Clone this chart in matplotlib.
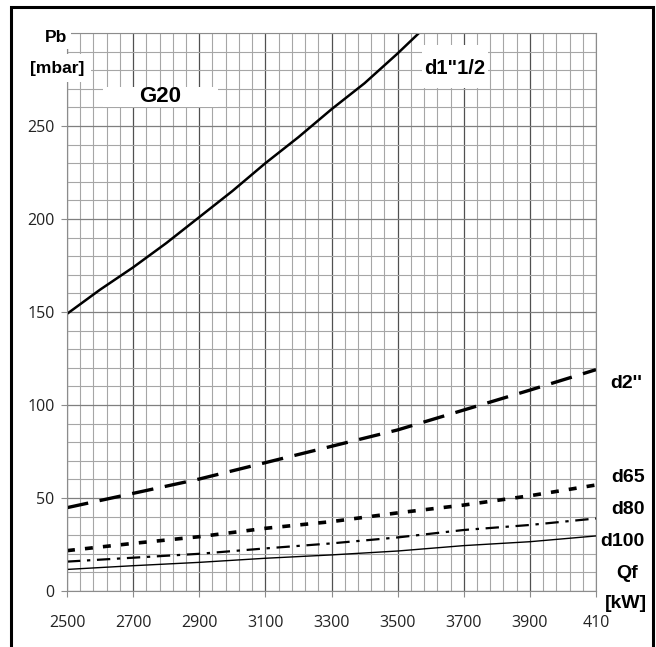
import matplotlib
matplotlib.use("Agg")
import matplotlib.pyplot as plt
from matplotlib.patches import Rectangle
from matplotlib.ticker import MultipleLocator, FixedLocator

# data (Qf in kW, Pb in mbar)
qf_big = [2500, 2600, 2700, 2800, 2900, 3000, 3100, 3200, 3300, 3400, 3500, 3600]
pb_d1_half = [149, 162, 174, 187, 201, 215, 230, 244, 259, 273, 289, 306]

qf = [2500, 2700, 2900, 3100, 3300, 3500, 3700, 3900, 4100]
pb_d2 = [44.8, 52.5, 60.2, 69, 77.8, 86.6, 97.3, 108, 119]
pb_d65 = [21.7, 25.6, 29.2, 33.7, 37.3, 42, 46.2, 51.2, 57]
pb_d80 = [15.8, 17.9, 20, 22.9, 25.6, 28.8, 32.8, 35.5, 39]
pb_d100 = [11.6, 13.6, 15.4, 17.6, 19.4, 21.5, 24.4, 26.5, 29.6]

x_ticks = [2500, 2700, 2900, 3100, 3300, 3500, 3700, 3900, 4100]
x_labels = ['2500', '2700', '2900', '3100', '3300', '3500', '3700', '3900', '410']
y_ticks = [0, 50, 100, 150, 200, 250]

W, H = 656, 647
fig = plt.figure(figsize=(W / 100, H / 100), dpi=100)

def fx(px):
    return px / W

def fy(py):
    return 1 - py / H

ax = fig.add_axes([fx(67), fy(591), (596 - 67) / W, (591 - 33) / H])
ax.set_xlim(2500, 4100)
ax.set_ylim(0, 300)

ax.xaxis.set_major_locator(FixedLocator(x_ticks))
ax.xaxis.set_minor_locator(MultipleLocator(40, offset=20))
ax.yaxis.set_major_locator(FixedLocator(y_ticks))
ax.yaxis.set_minor_locator(MultipleLocator(10))
ax.set_xticklabels(x_labels)

ax.grid(which='minor', color='#a6a6a6', lw=0.8)
ax.grid(which='major', axis='y', color='#7f7f7f', lw=0.9)
ax.grid(which='major', axis='x', color='#505050', lw=0.9)
ax.set_axisbelow(True)
for s in ax.spines.values():
    s.set_color('#8c8c8c')
    s.set_linewidth(0.8)

ax.tick_params(which='minor', length=0)
ax.tick_params(which='major', color='#8c8c8c', length=4, width=0.8,
               labelsize=11.5, labelcolor='#222222')
ax.tick_params(axis='x', pad=13)
ax.tick_params(axis='y', pad=5)
for lab in ax.get_xticklabels() + ax.get_yticklabels():
    lab.set_fontfamily('Open Sans')

ax.plot(qf_big, pb_d1_half, color='black', lw=1.8, solid_capstyle='butt')
ax.plot(qf, pb_d2, color='black', lw=2.4, dashes=(6.5, 3.5))
ax.plot(qf, pb_d65, color='black', lw=2.6, dashes=(2.2, 2.8))
ax.plot(qf, pb_d80, color='black', lw=1.6, dashes=(6, 3, 1.5, 3))
ax.plot(qf, pb_d100, color='black', lw=1.0)

# white label boxes over the grid
for (x0, y0, x1, y1) in [(103, 87, 218, 107), (422, 45, 488, 88)]:
    fig.patches.append(Rectangle((fx(x0), fy(y1)), fx(x1) - fx(x0), fy(y0) - fy(y1),
                                 transform=fig.transFigure, facecolor='white',
                                 edgecolor='none', zorder=2))

bold = dict(fontfamily='Liberation Sans', fontweight='bold', color='black',
            ha='center', va='center', zorder=4)

fig.text(fx(56), fy(37), 'Pb', fontsize=12.5,
         bbox=dict(facecolor='white', edgecolor='none', pad=3), **bold)
fig.text(fx(57), fy(68), '[mbar]', fontsize=12.5,
         bbox=dict(facecolor='white', edgecolor='none', pad=5), **bold)
fig.text(fx(160), fy(96), 'G20', fontsize=16, **bold)
fig.text(fx(455), fy(68), 'd1"1/2', fontsize=14.5, **bold)
fig.text(fx(626), fy(383), "d2''", fontsize=14, **bold)
fig.text(fx(628), fy(478), 'd65', fontsize=14, **bold)
fig.text(fx(628), fy(510), 'd80', fontsize=14, **bold)
fig.text(fx(622), fy(542), 'd100', fontsize=14, **bold)
fig.text(fx(627), fy(573), 'Qf', fontsize=14, **bold)
fig.text(fx(626), fy(603), '[kW]', fontsize=14, **bold)

# outer frame
fig.patches.append(Rectangle((fx(11), -0.02), fx(653) - fx(11), fy(7) + 0.02,
                             transform=fig.transFigure, fill=False,
                             edgecolor='black', lw=2.2, zorder=5))

fig.savefig('out.png', dpi=100)
